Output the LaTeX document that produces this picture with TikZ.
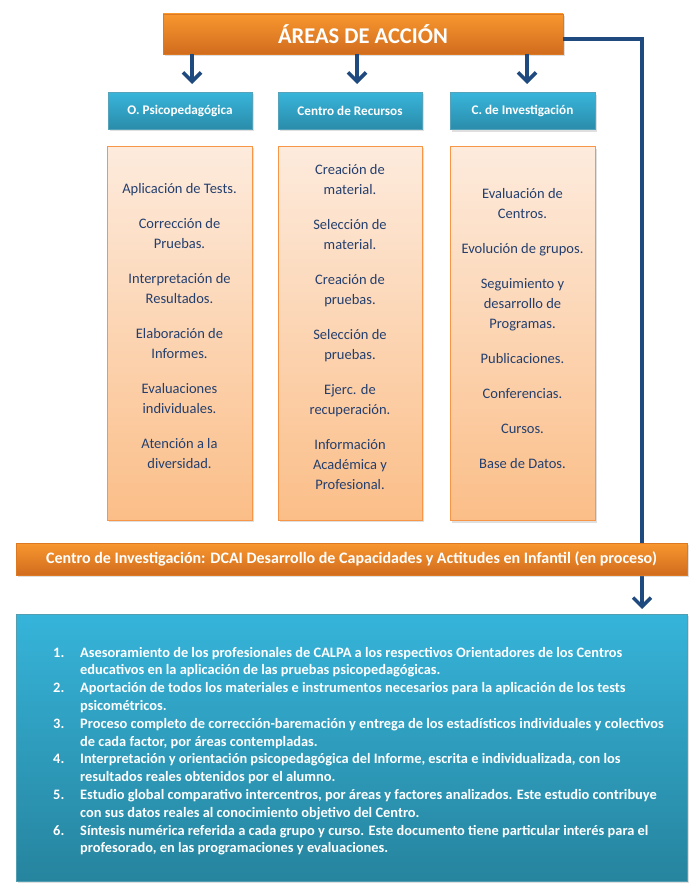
\documentclass[tikz,border=0pt]{standalone}
\usepackage{fontspec}
\setmainfont{Carlito}
\usetikzlibrary{positioning,shadows,arrows.meta}

\definecolor{orangetop}{HTML}{F8972F}
\definecolor{orangebot}{HTML}{D16C1E}
\definecolor{bluetop}{HTML}{38B5DB}
\definecolor{bluebot}{HTML}{2A8CAA}
\definecolor{bigtop}{HTML}{36B4DA}
\definecolor{bigbot}{HTML}{26849E}
\definecolor{peachtop}{HTML}{FDEBDD}
\definecolor{peachbot}{HTML}{FBBE88}
\definecolor{peachline}{HTML}{F79646}
\definecolor{arrowblue}{HTML}{1F4A80}
\definecolor{navytext}{HTML}{243F6E}

\tikzset{
  softshadow/.style={drop shadow={opacity=0.25,shadow xshift=1.5pt,shadow yshift=-2pt}},
  orangebar/.style={softshadow,draw=orangebot!70!orangetop,line width=0.6pt,
    top color=orangetop,bottom color=orangebot,text=white,inner sep=0pt},
  bluehead/.style={softshadow,draw=bluebot!80!white,line width=0.6pt,
    top color=bluetop,bottom color=bluebot,text=white,inner sep=0pt,
    minimum height=37pt,font=\fontsize{13.2}{15}\selectfont\bfseries},
  peachcol/.style={softshadow,draw=peachline,line width=0.8pt,
    top color=peachtop,bottom color=peachbot,inner sep=0pt,
    minimum width=145pt,minimum height=374pt},
  coltext/.style={text=navytext,align=center,inner sep=0pt,
    font=\fontsize{14.5}{20}\selectfont},
  downarrow/.style={draw=arrowblue,line width=3.6pt,
    -{Straight Barb[length=9pt,width=18pt]}},
}

\newcommand{\num}[1]{\makebox[27pt][l]{#1}}

\begin{document}
\begin{tikzpicture}[x=1pt,y=-1pt]

  \useasboundingbox (0,0) rectangle (700,891);

  \node[orangebar,minimum width=400pt,minimum height=40pt,
    font=\fontsize{22.5}{24}\selectfont\bfseries] (title) at (363,34) {ÁREAS DE ACCIÓN};

  \node[bluehead,minimum width=144pt] (psico) at (180,110.5) {O. Psicopedagógica};
  \node[bluehead,minimum width=144pt] (recur) at (350,110.5) {Centro de Recursos};
  \node[bluehead,minimum width=145pt] (inves) at (522.5,111) {C. de Investigación};

  \node[peachcol] (colA) at (179.5,333) {};
  \node[peachcol,minimum width=144pt] (colB) at (350,333) {};
  \node[peachcol] (colC) at (522.5,333.5) {};

  \node[coltext,below=38pt of colA.north] (listA) {
    Aplicación de Tests.\\[15pt]
    Corrección de\\ Pruebas.\\[15pt]
    Interpretación de\\ Resultados.\\[15pt]
    Elaboración de\\ Informes.\\[15pt]
    Evaluaciones\\ individuales.\\[15pt]
    Atención a la\\ diversidad.};
  \node[coltext,below=19pt of colB.north] (listB) {
    Creación de\\ material.\\[15pt]
    Selección de\\ material.\\[15pt]
    Creación de\\ pruebas.\\[15pt]
    Selección de\\ pruebas.\\[15pt]
    Ejerc. de\\ recuperación.\\[15pt]
    Información\\ Académica y\\ Profesional.};
  \node[coltext,below=42pt of colC.north] (listC) {
    Evaluación de\\ Centros.\\[15pt]
    Evolución de grupos.\\[15pt]
    Seguimiento y\\ desarrollo de\\ Programas.\\[15pt]
    Publicaciones.\\[15pt]
    Conferencias.\\[15pt]
    Cursos.\\[15pt]
    Base de Datos.};

  \coordinate (tipA) at (192,84);
  \coordinate (tipB) at (357,84);
  \coordinate (tipC) at (527,84);
  \coordinate (tipD) at (642,609);

  \draw[downarrow] (title.south -| tipA) -- (tipA);
  \draw[downarrow] (title.south -| tipB) -- (tipB);
  \draw[downarrow] (title.south -| tipC) -- (tipC);
  \draw[downarrow,line width=3.4pt] ([yshift=-5pt]title.east) -| (tipD);

  \node[orangebar,minimum width=671pt,minimum height=32pt,
    font=\fontsize{16}{18}\selectfont\bfseries] (centro) at (351.5,559)
    {Centro de Investigación: DCAI Desarrollo de Capacidades y Actitudes en Infantil (en proceso)};

  \node[softshadow,draw=bigbot!80!white,line width=0.6pt,top color=bigtop,bottom color=bigbot,
    minimum width=671pt,minimum height=267pt,inner sep=0pt] (servicios) at (351.5,747.5) {};

  \node[anchor=north west,inner sep=0pt,text=white,align=left,
    font=\fontsize{14.4}{17.8}\selectfont\bfseries] (items) at (53,644.5) {%
    \begin{tabular}{@{}l@{}l@{}}
    \num{1.} & Asesoramiento de los profesionales de CALPA a los respectivos Orientadores de los Centros\\
       & educativos en la aplicación de las pruebas psicopedagógicas.\\
    \num{2.} & Aportación de todos los materiales e instrumentos necesarios para la aplicación de los tests\\
       & psicométricos.\\
    \num{3.} & Proceso completo de corrección-baremación y entrega de los estadísticos individuales y colectivos\\
       & de cada factor, por áreas contempladas.\\
    \num{4.} & Interpretación y orientación psicopedagógica del Informe, escrita e individualizada, con los\\
       & resultados reales obtenidos por el alumno.\\
    \num{5.} & Estudio global comparativo intercentros, por áreas y factores analizados. Este estudio contribuye\\
       & con sus datos reales al conocimiento objetivo del Centro.\\
    \num{6.} & Síntesis numérica referida a cada grupo y curso. Este documento tiene particular interés para el\\
       & profesorado, en las programaciones y evaluaciones.
    \end{tabular}};

\end{tikzpicture}
\end{document}
